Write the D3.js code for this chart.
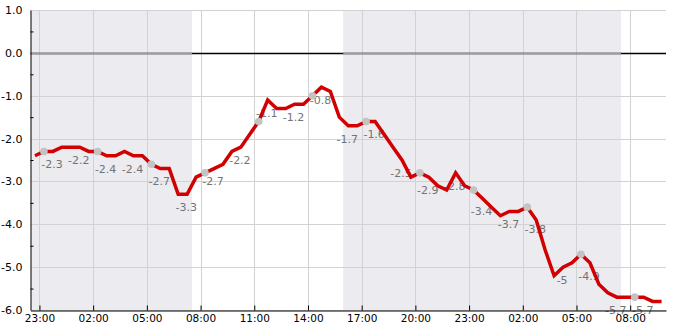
<!DOCTYPE html>
<html>
<head>
  <meta charset="utf-8">
  <title>Temperature</title>
  <script src="https://d3js.org/d3.v7.min.js"></script>
  <style>
    body { margin: 0; background: #fff; }
    text { font-family: "DejaVu Sans", sans-serif; }
  </style>
</head>
<body>
<div class="page"></div>
<script>
// readings every 30 min, first one at 22:45 on day 1
var seriesStart = new Date(2024, 0, 1, 22, 45);
var temps = [
  -2.4, -2.3, -2.3, -2.2, -2.2, -2.2, -2.3, -2.3, -2.4, -2.4,
  -2.3, -2.4, -2.4, -2.6, -2.7, -2.7, -3.3, -3.3, -2.9, -2.8,
  -2.7, -2.6, -2.3, -2.2, -1.9, -1.6, -1.1, -1.3, -1.3, -1.2,
  -1.2, -1.0, -0.8, -0.9, -1.5, -1.7, -1.7, -1.6, -1.6, -1.9,
  -2.2, -2.5, -2.9, -2.8, -2.9, -3.1, -3.2, -2.8, -3.1, -3.2,
  -3.4, -3.6, -3.8, -3.7, -3.7, -3.6, -3.9, -4.6, -5.2, -5.0,
  -4.9, -4.7, -4.9, -5.4, -5.6, -5.7, -5.7, -5.7, -5.7, -5.8,
  -5.8
];

// which readings get a grey marker
var markerIdx = [1, 7, 13, 19, 25, 31, 37, 43, 49, 55, 61, 67];

// value labels: reading index and printed text
var labelIdx = [1, 4, 7, 10, 13, 16, 19, 22, 25, 28, 31, 34, 37, 40, 43, 46, 49, 52, 55, 58, 61, 64, 67];
var labelVals = [-2.3, -2.2, -2.4, -2.4, -2.7, -3.3, -2.7, -2.2, -1.1, -1.2, -0.8, -1.7,
                 -1.6, -2.5, -2.9, -2.8, -3.4, -3.7, -3.8, -5, -4.9, -5.7, -5.7];

// night bands (shaded)
var nightStart = [new Date(2024, 0, 1, 22, 30), new Date(2024, 0, 2, 15, 58)];
var nightEnd   = [new Date(2024, 0, 2, 7, 31),  new Date(2024, 0, 3, 7, 29)];

var xStart = new Date(2024, 0, 1, 22, 30);
var xEnd   = new Date(2024, 0, 3, 10, 0);
var firstTick = new Date(2024, 0, 1, 23, 0);

var yTicks = [1, 0, -1, -2, -3, -4, -5, -6];
var yMinor = [0.5, -0.5, -1.5, -2.5, -3.5, -4.5, -5.5];

var width = 685;
var height = 330;

var svg = d3.select(".page")
    .append("svg")
    .attr("width", width)
    .attr("height", height)
    .style("display", "block");

var x = d3.scaleTime()
    .domain([xStart, xEnd])
    .range([30.5, 666]);

var y = d3.scaleLinear()
    .domain([-6, 1])
    .range([310, 10]);

var xTicks = d3.timeHour.range(firstTick, xEnd, 3);

var times = temps.map(function(d, i) {
  return d3.timeMinute.offset(seriesStart, 30 * i);
});

var fmt = d3.formatLocale({decimal: ".", thousands: ",", grouping: [3], currency: ["", ""], minus: "-"});

// night shading
svg.selectAll("rect.night")
    .data(nightStart)
    .enter()
    .append("rect")
    .attr("class", "night")
    .attr("x", function(d) { return x(d); })
    .attr("y", y(1))
    .attr("width", function(d, i) { return x(nightEnd[i]) - x(d); })
    .attr("height", y(-6) - y(1))
    .attr("fill", "#ebebf0");

// grid
svg.selectAll("line.hgrid")
    .data(yTicks)
    .enter()
    .append("line")
    .attr("x1", x(xStart))
    .attr("x2", x(xEnd))
    .attr("y1", function(d) { return Math.round(y(d)) + 0.5; })
    .attr("y2", function(d) { return Math.round(y(d)) + 0.5; })
    .attr("stroke", "#d2d2d2");

svg.selectAll("line.vgrid")
    .data(xTicks)
    .enter()
    .append("line")
    .attr("x1", function(d) { return Math.round(x(d)) + 0.5; })
    .attr("x2", function(d) { return Math.round(x(d)) + 0.5; })
    .attr("y1", y(1))
    .attr("y2", y(-6))
    .attr("stroke", "#d2d2d2");

// zero line, greyed where it crosses the night bands
svg.append("line")
    .attr("x1", x(xStart))
    .attr("x2", x(xEnd))
    .attr("y1", Math.round(y(0)) + 0.5)
    .attr("y2", Math.round(y(0)) + 0.5)
    .attr("stroke", "#000")
    .attr("stroke-width", 1.3);

svg.selectAll("line.zeronight")
    .data(nightStart)
    .enter()
    .append("line")
    .attr("x1", function(d) { return x(d); })
    .attr("x2", function(d, i) { return x(nightEnd[i]); })
    .attr("y1", Math.round(y(0)) + 0.5)
    .attr("y2", Math.round(y(0)) + 0.5)
    .attr("stroke", "#9c9ca3")
    .attr("stroke-width", 1.3);

// value labels (under the line)
svg.selectAll("text.vlabel")
    .data(labelVals)
    .enter()
    .append("text")
    .attr("class", "vlabel")
    .attr("x", function(d, i) { return x(times[labelIdx[i]]) + 8; })
    .attr("y", function(d) { return y(d) + 13; })
    .attr("dy", "0.35em")
    .attr("text-anchor", "middle")
    .attr("font-size", "11px")
    .attr("fill", "#747474")
    .text(function(d) { return String(d).replace("\u2212", "-"); });

// temperature line
var line = d3.line()
    .x(function(d, i) { return x(times[i]); })
    .y(function(d) { return y(d); });

svg.append("path")
    .datum(temps)
    .attr("d", line)
    .attr("fill", "none")
    .attr("stroke", "#d20000")
    .attr("stroke-width", 3.5)
    .attr("stroke-linejoin", "miter");

svg.selectAll("circle.marker")
    .data(markerIdx)
    .enter()
    .append("circle")
    .attr("cx", function(d) { return x(times[d]); })
    .attr("cy", function(d) { return y(temps[d]); })
    .attr("r", 3.8)
    .attr("fill", "#c3c3c3");

// axes
var yAxis = svg.append("g")
    .attr("transform", "translate(30.5,0)")
    .call(d3.axisLeft(y)
      .tickValues(yTicks)
      .tickSize(0)
      .tickPadding(8)
      .tickFormat(fmt.format(".1f")));

yAxis.select(".domain").attr("stroke", "#000");
yAxis.selectAll("text").attr("font-size", "11px").attr("fill", "#000")
    .attr("font-family", "DejaVu Sans, sans-serif");

svg.append("g")
    .attr("transform", "translate(30.5,0)")
    .call(d3.axisRight(y)
      .tickValues(yMinor)
      .tickSize(3)
      .tickFormat(""))
    .select(".domain").remove();

var xAxis = svg.append("g")
    .attr("transform", "translate(0," + (y(-6) + 0.5) + ")")
    .call(d3.axisBottom(x)
      .tickValues(xTicks)
      .tickSizeInner(-5)
      .tickSizeOuter(0)
      .tickPadding(4)
      .tickFormat(d3.timeFormat("%H:%M")));

xAxis.select(".domain").attr("stroke", "#000");
xAxis.selectAll("text").attr("font-size", "10.5px").attr("fill", "#000")
    .attr("font-family", "DejaVu Sans, sans-serif");
</script>
</body>
</html>
